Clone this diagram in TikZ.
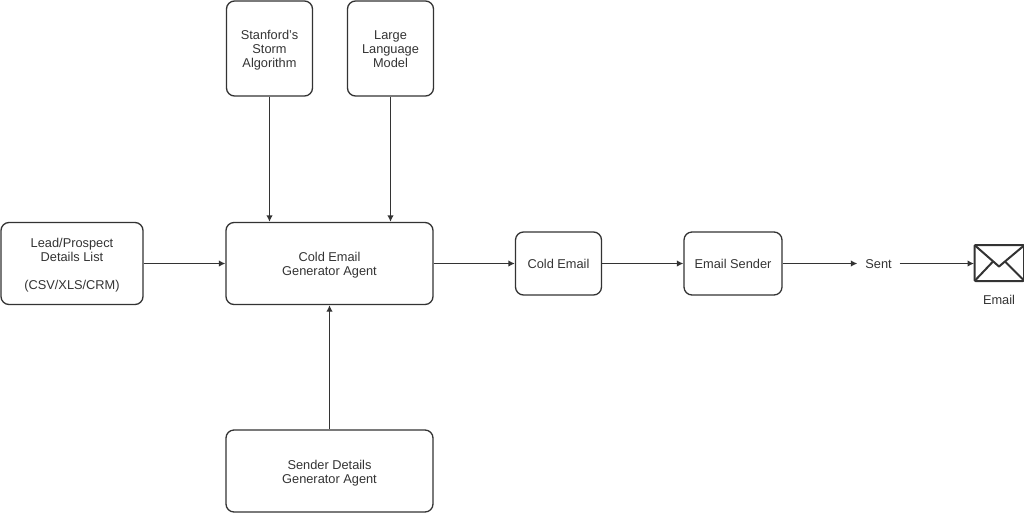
\documentclass[tikz,border=0pt]{standalone}
\usepackage{fontspec}
\setmainfont{Liberation Sans}
\usetikzlibrary{arrows.meta}
\definecolor{ink}{HTML}{333333}
\newcommand\fa{\rule{0pt}{13.5pt}}
\newcommand\fb{\rule{0pt}{12pt}}
\newcommand\fz{\rule[-3pt]{0pt}{3pt}}
\tikzset{
  box/.style={draw=ink,line width=1.3pt,rounded corners=8pt,align=center,inner sep=0pt,text=ink,font=\fontsize{12.8}{14}\selectfont},
  lbl/.style={inner sep=0pt,text=ink,align=center,font=\fontsize{12.8}{14}\selectfont},
  conn/.style={draw=ink,line width=1.35pt,-{Latex[length=6.5pt,width=6.5pt]}},
  env/.style={draw=ink,line width=2pt,line join=round},
}
\begin{document}
\begin{tikzpicture}[x=1pt,y=-1pt]
\useasboundingbox (0,0) rectangle (1024,512);
\node[box,minimum width=86pt,minimum height=95pt] (storm) at (269.5,48.5) {\fa Stanford's\\Storm\\Algorithm\fz};
\node[box,minimum width=86pt,minimum height=95pt] (llm) at (390.5,48.5) {\fa Large\\Language\\Model\fz};
\node[box,minimum width=142pt,minimum height=82pt] (lead) at (72,263.5) {\fb Lead/Prospect\\Details List\\[14pt](CSV/XLS/CRM)\fz};
\node[box,minimum width=207pt,minimum height=82pt] (gen) at (329.5,263.5) {\fa Cold Email\\Generator Agent\fz};
\node[box,minimum width=86pt,minimum height=63pt] (cold) at (558.5,263.5) {\fa Cold Email\fz};
\node[box,minimum width=98pt,minimum height=63pt] (sender) at (733,263.5) {\fa Email Sender\fz};
\node[box,minimum width=207pt,minimum height=82pt] (sda) at (329.5,471) {\fa Sender Details\\Generator Agent\fz};
\node[lbl,outer xsep=8pt] (sent) at (878.5,263.5) {\fa Sent\fz};
\coordinate (envw) at (974,263.5);
\coordinate (gentopl) at (gen.north -| storm);
\coordinate (gentopr) at (gen.north -| llm);
\draw[conn] (storm.south) -- (gentopl);
\draw[conn] (llm.south) -- (gentopr);
\draw[conn] (lead) -- (gen);
\draw[conn] (gen) -- (cold);
\draw[conn] (cold) -- (sender);
\draw[conn] (sender) -- (sent.west);
\draw[conn] (sent.east) -- (envw);
\draw[conn] (sda) -- (gen);
\draw[env,rounded corners=1pt] (974.5,245) rectangle (1024,281);
\draw[env] (975,245.5) -- (999,266.5) -- (1024,245.5);
\draw[env] (975,280.5) -- (993,261.5);
\draw[env] (1024,280.5) -- (1005,261.5);
\node[lbl] (email) at (999,300) {Email};
\end{tikzpicture}
\end{document}
